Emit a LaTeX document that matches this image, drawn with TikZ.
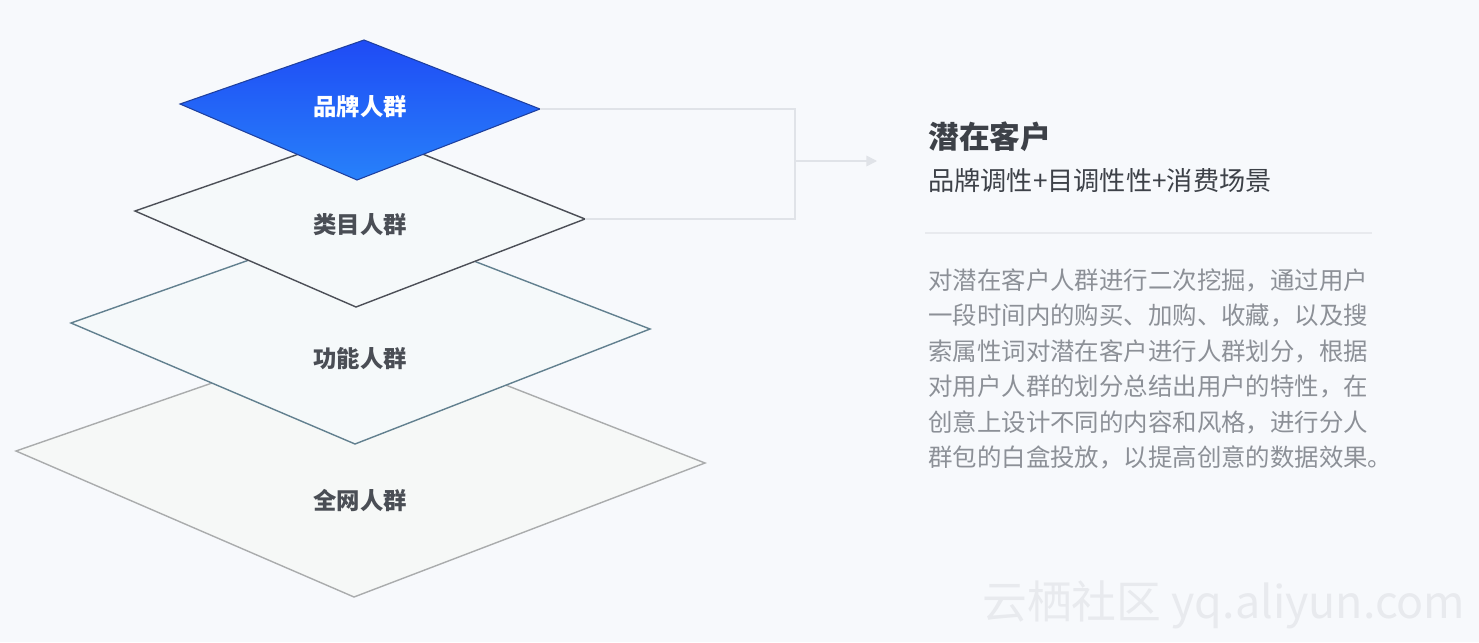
\documentclass[tikz,border=0pt]{standalone}
\usepackage{fontspec}
\setmainfont{Noto Sans CJK SC}
\usetikzlibrary{arrows.meta}
\definecolor{bgcol}{HTML}{F7F9FC}
\definecolor{brandtop}{HTML}{1F4BF5}
\definecolor{brandbot}{HTML}{2781FA}
\definecolor{branddraw}{HTML}{1E3F9E}
\definecolor{layerfill}{HTML}{F5F9FA}
\definecolor{basefill}{HTML}{F6F8F7}
\definecolor{catdraw}{HTML}{4C4F57}
\definecolor{funcdraw}{HTML}{62808F}
\definecolor{basedraw}{HTML}{AAACAD}
\definecolor{labelcol}{HTML}{4A4E55}
\definecolor{linkcol}{HTML}{E0E3E8}
\definecolor{titlecol}{HTML}{3D4148}
\definecolor{bodycol}{HTML}{8C9097}
\definecolor{markcol}{HTML}{E8EAEE}
\tikzset{
  layerlabel/.style={font=\fontsize{13.3}{16}\selectfont\bfseries,text=labelcol,inner sep=0pt},
  link/.style={draw=linkcol,line width=0.85pt},
}

\begin{document}
\begin{tikzpicture}[x=0.02cm,y=-0.02cm]
      \fill[bgcol] (0,0) rectangle (1479,642);
      \coordinate (base-t) at (365,330);
      \coordinate (base-l) at (16,451);
      \coordinate (base-r) at (705,463);
      \coordinate (base-b) at (354,597);
      \coordinate (func-t) at (365,219);
      \coordinate (func-l) at (71,323);
      \coordinate (func-r) at (650,329);
      \coordinate (func-b) at (355,444);
      \coordinate (cat-t) at (365,131);
      \coordinate (cat-l) at (135,211);
      \coordinate (cat-r) at (585,219);
      \coordinate (cat-b) at (356,307);
      \coordinate (brand-t) at (364,40);
      \coordinate (brand-l) at (180,104);
      \coordinate (brand-r) at (540,109);
      \coordinate (brand-b) at (357,180);
      \filldraw[fill=basefill,draw=basedraw,line width=0.8pt] (base-t) -- (base-r) -- (base-b) -- (base-l) -- cycle;
      \filldraw[fill=layerfill,draw=funcdraw,line width=0.8pt] (func-t) -- (func-r) -- (func-b) -- (func-l) -- cycle;
      \filldraw[fill=layerfill,draw=catdraw,line width=0.8pt] (cat-t) -- (cat-r) -- (cat-b) -- (cat-l) -- cycle;
      \path[top color=brandtop,bottom color=brandbot,draw=branddraw,line width=0.6pt] (brand-t) -- (brand-r) -- (brand-b) -- (brand-l) -- cycle;
      \node[layerlabel,text=white] (brand) at (360,107) {品牌人群};
      \node[layerlabel] (cat) at (360,225) {类目人群};
      \node[layerlabel] (func) at (360,359) {功能人群};
      \node[layerlabel] (base) at (360,501) {全网人群};
      \coordinate (join-t) at (795,109);
      \coordinate (join-b) at (795,219);
      \coordinate (join-m) at (795,161);
      \coordinate (goal) at (877,161);
      \draw[link] (brand-r) -- (join-t) -- (join-b) -- (cat-r);
      \draw[link,-{Triangle[length=6pt,width=6pt]}] (join-m) -- (goal);
      \node[anchor=west,inner sep=0pt,font=\fontsize{17.5}{20}\selectfont\bfseries,text=titlecol] (title) at (928,137) {潜在客户};
      \node[anchor=west,inner sep=0pt,font=\fontsize{14.9}{18}\selectfont,text=titlecol] (sub) at (928,181) {品牌调性+目调性性+消费场景};
      \draw[draw=markcol,line width=0.7pt] (925,233) -- (1372,233);
      \node[anchor=north west,inner sep=0pt,align=left,font=\fontsize{13.9}{20.2}\selectfont,text=bodycol] (desc) at (928,268) {对潜在客户人群进行二次挖掘，通过用户\\一段时间内的购买、加购、收藏，以及搜\\索属性词对潜在客户进行人群划分，根据\\对用户人群的划分总结出用户的特性，在\\创意上设计不同的内容和风格，进行分人\\群包的白盒投放，以提高创意的数据效果。};
      \node[anchor=west,inner sep=0pt,font=\fontsize{25.5}{30}\selectfont,text=markcol] (mark) at (982,605) {云栖社区 yq.aliyun.com};
     \end{tikzpicture}
\end{document}
